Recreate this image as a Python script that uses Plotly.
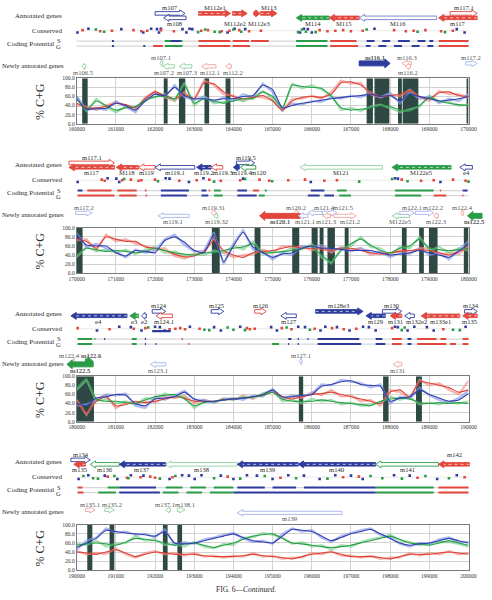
import plotly.graph_objects as go

# ======================= DATA =======================
PANEL_STARTS = [160000, 170000, 180000, 190000]
STEP = 250  # sampling step of the %C+G series (bp)

# ---- % C+G (smoothed = dark, raw = light), one value every 250 bp ----
P1_RED = [45,35,35,38, 45,42,35,55, 70,62,55,65, 55,90,88,70, 60,55,58,62, 50,30,50,58, 60,58,65,90, 92,85,68,60, 62,65,72,60, 55,68,70,62, 60]
P1_RED_RAW = [40,38,30,40, 48,38,30,58, 72,58,50,70, 52,95,85,65, 62,50,60,58, 52,28,55,55, 62,55,70,95, 88,90,65,58, 65,60,75,58, 50,72,65,65, 58]
P1_GREEN = [55,30,50,40, 30,35,38,50, 60,60,55,85, 45,55,50,45, 50,55,55,70, 60,35,85,82, 80,78,60,35, 30,32,35,40, 38,30,28,40, 58,50,45,42, 40]
P1_GREEN_RAW = [60,28,55,38, 25,38,35,55, 58,65,50,90, 40,60,45,48, 55,50,58,72, 55,30,88,78, 85,75,62,30, 35,28,38,42, 35,25,32,38, 62,48,48,40, 42]
P1_BLUE = [55,32,33,34, 45,40,30,50, 65,62,80,62, 55,55,52,55, 55,60,62,85, 75,35,40,45, 48,52,55,58, 60,62,65,60, 62,50,65,60, 55,50,52,55, 60]
P1_BLUE_RAW = [60,30,35,30, 50,38,25,55, 68,58,85,58, 52,60,48,58, 50,65,58,88, 70,30,45,42, 50,48,58,55, 62,58,70,58, 68,45,70,55, 60,45,55,50, 65]

P2_RED = [75,70,55,80, 75,70,70,58, 55,50,42,36, 38,48,72,50, 40,35,45,48, 50,55,60,55, 55,52,50,55, 55,50,45,42, 45,48,50,52, 50,45,40,48, 55]
P2_RED_RAW = [72,75,50,85, 70,75,65,60, 52,55,38,32, 42,45,78,45, 35,40,42,52, 45,60,55,60, 50,58,45,58, 52,55,40,45, 40,52,45,55, 55,40,45,42, 60]
P2_GREEN = [40,55,52,48, 50,48,45,48, 55,50,45,42, 40,45,45,50, 55,58,65,45, 45,48,50,55, 60,40,25,50, 65,75,62,50, 45,55,60,75, 55,52,50,52, 55]
P2_GREEN_RAW = [35,58,48,52, 45,52,42,52, 58,45,48,38, 42,40,50,45, 60,52,70,42, 48,45,55,52, 65,35,22,55, 60,80,58,55, 40,58,55,80, 50,58,45,55, 50]
P2_BLUE = [85,62,60,60, 45,38,50,48, 45,72,80,68, 50,45,85,25, 60,90,58,45, 35,42,45,55, 60,55,55,52, 50,50,50,45, 40,42,45,50, 45,40,35,48, 65]
P2_BLUE_RAW = [88,58,65,55, 48,35,52,45, 50,75,85,62, 48,50,90,20, 65,95,52,48, 30,45,40,60, 58,62,50,55, 48,55,45,48, 35,45,42,55, 40,45,30,52, 70]

P3_RED = [45,20,45,55, 35,38,45,42, 45,50,55,52, 45,45,45,48, 50,52,55,58, 65,55,50,55, 60,62,65,60, 55,50,45,40, 65,70,55,88, 85,80,75,65, 70]
P3_RED_RAW = [48,15,50,58, 30,42,40,45, 42,55,52,58, 40,48,42,52, 48,58,50,62, 68,50,55,52, 65,58,70,55, 58,45,48,35, 70,65,50,92, 80,85,70,60, 90]
P3_GREEN = [75,95,50,45, 45,42,40,48, 55,58,60,50, 35,42,45,48, 50,52,55,58, 65,50,45,45, 45,48,45,42, 40,38,35,45, 50,52,50,42, 40,42,40,42, 40]
P3_GREEN_RAW = [70,92,45,50, 40,45,38,52, 50,62,55,55, 30,45,42,50, 48,55,52,62, 68,45,48,40, 50,45,48,38, 42,35,38,42, 55,48,55,38, 42,38,45,40, 45]
P3_BLUE = [40,35,52,55, 60,58,40,35, 50,52,55,65, 50,45,45,48, 50,52,55,60, 70,55,55,58, 60,78,82,88, 90,82,80,78, 45,52,55,70, 60,52,45,48, 62]
P3_BLUE_RAW = [35,38,48,60, 58,62,35,30, 55,48,58,68, 48,48,42,50, 52,48,58,55, 72,50,58,55, 62,82,80,92, 88,85,75,82, 40,55,50,75, 58,48,42,52, 68]

P4_RED = [40,38,35,40, 45,38,30,35, 40,38,35,35, 35,32,30,30, 30,32,35,32, 30,28,25,30, 35,38,40,35, 30,30,30,28, 25,30,35,35, 35,38,40,38, 35]
P4_RED_RAW = [42,35,38,36, 48,35,28,38, 42,35,38,32, 38,30,32,28, 32,30,38,30, 32,25,28,28, 38,35,42,32, 32,28,32,25, 28,28,38,32, 38,35,42,35, 38]
P4_GREEN = [55,58,60,58, 55,62,70,68, 65,60,55,58, 60,55,50,55, 60,68,75,78, 80,70,60,58, 55,52,50,52, 55,60,65,70, 75,68,60,58, 55,60,65,60, 55]
P4_GREEN_RAW = [58,55,65,52, 58,60,75,65, 68,55,58,52, 62,52,48,58, 55,72,72,82, 78,72,58,62, 52,55,45,55, 52,62,68,72, 78,65,62,55, 58,62,62,58, 52]
P4_BLUE = [50,60,70,88, 85,82,80,78, 75,85,60,58, 60,65,70,75, 80,72,65,62, 60,75,90,88, 85,75,65,72, 80,85,90,80, 70,60,55,58, 60,65,70,65, 60]
P4_BLUE_RAW = [45,65,72,92, 82,85,78,80, 72,90,55,62, 58,68,72,78, 82,70,62,65, 58,80,92,85, 88,72,62,75, 82,88,92,78, 72,58,52,60, 58,68,72,62, 62]

# ---- sequence gaps (dark bars in the %C+G plot) ----
P1_GAPS = [(160140,160280),(162222,162321),(162609,162773),(163260,163380),(163800,163925),
           (167400,167560),(167600,167980),(168200,168300),(168320,168720),(169950,170000)]
P2_GAPS = [(170000,170150),(173450,173650),(174540,174690),(175500,175680),(176000,176150),
           (176200,176300),(176400,176590),(176840,176940),(178300,178420),(178740,178860),
           (178990,179210),(179880,180000)]
P3_GAPS = [(180000,180440),(185670,185780),(187820,187960),(188660,188810)]
P4_GAPS = [(190270,190400),(190840,190960),(192200,192320),(192570,192690)]

# ---- annotated genes: (name, start, end, strand) ----
P1_GENES = [("m107",162000,162765,1),("m108",162220,162790,-1),("M112e1",163110,163925,1),
            ("M112e2",163975,164350,1),("M112e3",164520,164680,1),("M113",164690,165110,1),
            ("M114",165605,166445,-1),("M115",166445,167210,-1),("M116",167210,169185,-1),
            ("m117.1",169530,170220,1),("m117",169235,170220,-1)]
P2_GENES = [("m117.1",169802,170963,1),("m117",169802,170963,-1),("M118",171012,171580,-1),
            ("m119",171580,172000,-1),("m119.1",172000,173012,-1),("m119.2",173062,173432,-1),
            ("m119.3",173432,173728,-1),("m119.5",174074,174543,1),("m119.4",174000,174150,-1),
            ("m120",174180,174570,-1),("M121",175703,177802,-1),("M122e5",178049,179555,-1),
            ("e4",179778,180099,-1)]
P3_GENES = [("e4",179852,181284,-1),("e3",181358,181580,-1),("e2",181654,181778,-1),
            ("m124",181926,182272,1),("m124.1",182025,182444,-1),("m125",183432,183753,1),
            ("m126",184543,184839,1),("m127",185210,185605,-1),("m128e3",186099,187309,1),
            ("m129",187383,187876,-1),("m130",187802,188296,1),("m131",188000,188296,-1),
            ("m132e2",188370,188617,-1),("m133e1",188790,189778,-1),("m134",189901,190222,1),
            ("m135",189852,190222,-1)]
P4_GENES = [("m134",189852,190346,1),("m135",189926,190222,-1),("m136",190346,191086,-1),
            ("m137",191086,192272,-1),("m138",192272,194099,-1),("m139",194099,195654,-1),
            ("m140",195654,197630,-1),("m141",197630,199234,-1),("m142",199234,200025,-1)]

# ---- newly annotated genes ----
P1_NEW = [("m106.5",160130,160230,-1),("m107.1",162123,162200,-1),("m107.2",162200,162494,-1),
          ("m107.3",162617,162938,-1),("m112.1",163185,163555,-1),("m112.2",163802,163950,-1),
          ("m116.1",167210,168000,1),("m116.3",168300,168540,-1),("m116.2",168380,168520,-1),
          ("m117.2",169925,170222,1)]
P2_NEW = [("m117.2",169975,170395,1),("m119.1",172074,172864,-1),("m119.31",173432,173555,-1),
          ("m119.32",173506,173605,-1),("m120.2",175530,175654,-1),("m120.1",174667,175703,-1),
          ("m121.4",175900,176271,-1),("m121.5",176271,176642,1),("m121.1",175654,175900,-1),
          ("m121.3",176271,176480,-1),("m121.2",176560,177136,1),("M122e5",178049,178494,-1),
          ("m122.1",178246,178617,1),("m122.2",178640,179111,1),("m122.3",179111,179234,-1),
          ("m122.4",179802,179876,-1),("m122.5",179975,180345,-1)]
P3_NEW = [("m122.4",179900,179950,-1),("m122.6",180222,180420,1),("m122.5",179750,180420,-1),
          ("m123.1",181877,182272,-1),("m127.1",185679,185753,-1),("m131",188074,188296,-1)]
P4_NEW = [("m135.1",190222,190469,1),("m135.2",190716,190963,1),("m137.1",192272,192395,-1),
          ("m138.1",192568,192765,1),("m139",194099,196770,-1)]

# ---- conserved elements (positions) ----
P1_CONS = {"blue": [160020,160300,161140,161700,161900,162050,162100,162150,162700,162800,162880,162950,
                    163850,164030,164300,165700,165800,165900,166000,167600,169700,169900],
           "red": [160150,160600,160900,161450,161650,161800,162150,162480,163180,163350,163700,163900,
                   164150,164400,164700,166200,166400,166600,166800,167000,167300,168100,168400,168600,
                   168900,169300,169600],
           "green": [160490,160700,163100,163280,163520,163650,164000,164200,165650,165750,165850,166100,
                     167400,168700,169400]}
P2_CONS = {"blue": [170025,170790,171012,171086,172272,172370,172864,173234,174247,175975,178123,178197,179284],
           "red": [170640,170716,171160,171382,171580,171654,172000,172617,173062,173383,173679,174173,
                   174667,174913,175400,175827,176320,176642,178296,178790,179111,179605,179925],
           "green": [171210,172074,173506,174300,174988,177210,178049,178444,180000]}
P3_CONS = {"blue": [180518,181086,181382,181654,182000,182123,182247,182889,183506,183679,184173,184963,
                    185111,185654,185827,186222,186346,186642,186963,187309,187457,187630,188123,188197,
                    188444,188617,188938,189111,189926],
           "red": [180025,180840,181457,181753,182370,182518,182642,182765,183136,184346,184420,184543,
                   185235,185482,186074,186518,186815,187136,188049,189358],
           "green": [181827,183259,183383,183852,184000,184296,185358,185951,188296,188370,189605,189778]}
P4_CONS = {"blue": [190049,190296,190716,191037,191383,191704,192370,192691,192864,193012,193185,193679,
                    194000,194346,194600,195000,195400,195800,196200,196600,197000,197300,198100,198500,
                    199200,199700],
           "red": [190790,191284,191630,191877,192000,192444,193852,195200,196800,197200,198700,199900],
           "green": [190173,190420,190543,190963,191320,192123,192518,193506,194173,194800,195600,196400,
                     197500,197800,198300,198900,199500]}

# ---- coding potential segments (start, end, colour) on S and G tracks ----
P1_CODE_S = [(160900,160950,"blue"),(162250,162700,"green"),(162400,162650,"blue"),(163110,163920,"red"),
             (163980,164400,"red"),(164450,164900,"red"),(165600,166400,"green"),(166470,167140,"red"),
             (167400,167600,"blue"),(167800,168000,"blue"),(168200,168500,"blue"),(168700,168900,"blue"),
             (169000,169100,"blue"),(169240,170000,"red")]
P1_CODE_G = [(160900,160950,"blue"),(161700,161750,"blue"),(161950,162200,"red"),(162250,162700,"green"),
             (163110,163920,"red"),(163980,164420,"red"),(165600,166400,"green"),(166470,167180,"red"),
             (167380,167500,"blue"),(167700,167900,"blue"),(168100,168300,"blue"),(168550,168750,"blue"),
             (168950,169100,"blue"),(169240,170000,"red")]
P2_CODE_S = [(170025,170148,"blue"),(170272,170889,"red"),(171037,171531,"red"),(171740,171780,"red"),
             (172148,172864,"blue"),(173185,173309,"blue"),(173370,173400,"red"),(173506,173679,"green"),
             (174099,174346,"blue"),(174500,174650,"red"),(174800,174850,"green"),(175975,176321,"blue"),
             (176642,176889,"green"),(178123,179111,"green"),(179270,179300,"red"),(179852,179975,"blue")]
P2_CODE_G = [(170025,170963,"red"),(171086,171531,"red"),(171760,171800,"red"),(172148,172815,"blue"),
             (173185,173358,"blue"),(173506,173728,"green"),(174099,174593,"blue"),(174650,174800,"green"),
             (175900,176200,"blue"),(176321,176568,"blue"),(176700,177000,"green"),(178123,178790,"green"),
             (179111,179432,"red"),(179840,179870,"red")]
P3_CODE_S = [(180025,180395,"green"),(180450,180480,"green"),(180700,180730,"blue"),(181407,181531,"green"),
             (181740,181770,"blue"),(182680,182710,"red"),(185400,185480,"blue"),(185640,185670,"blue"),
             (185890,185920,"blue"),(186148,187210,"blue"),(187630,187802,"blue"),(188049,188296,"red"),
             (188444,188543,"blue"),(188691,189185,"red"),(189284,189432,"red"),(189852,190000,"red")]
P3_CODE_G = [(180025,180395,"green"),(181407,181531,"green"),(181740,181770,"blue"),(182010,182040,"blue"),
             (182850,182880,"red"),(184988,185161,"green"),(185390,185420,"blue"),(185640,185670,"blue"),
             (186148,187260,"blue"),(187630,187876,"blue"),(188049,188296,"red"),(188444,188543,"blue"),
             (188691,189432,"red"),(189530,189679,"red"),(189852,190000,"red")]
P4_CODE_S = [(190025,190148,"red"),(190790,191086,"green"),(191086,192025,"blue"),(192272,192700,"green"),
             (192900,193300,"green"),(193500,194000,"green"),(194100,194800,"blue"),(195000,195600,"blue"),
             (195800,196900,"blue"),(196900,197630,"blue"),(197630,199111,"green"),(199234,200000,"red")]
P4_CODE_G = [(190025,190173,"red"),(190550,191000,"green"),(191086,192123,"blue"),(192200,192600,"green"),
             (192800,193200,"green"),(193400,194000,"green"),(194000,197630,"blue"),(197630,199111,"green"),
             (199234,200000,"red")]

# ======================= STYLE =======================
# per-gene style: "<colour> <kind> <row+label position>"
P1_GENE_STYLE = ["blue open ua","blue open lb","red solid ua","red solid ub","red solid ub","red solid ua",
                 "green solid lb","red solid lb","mblue open lb","red open ua","red solid lb"]
P2_GENE_STYLE = ["red open ua","red solid lb","red solid lb","red open lb","blue open lb","blue solid lb",
                 "red open lb","blue open ua","blue solid lb","green open lb","lgreen open lb",
                 "green solid lb","blue open lb"]
P3_GENE_STYLE = ["blue solid lb","green solid lb","blue open lb","blue open ua","red open lb","blue open ua",
                 "red open ua","blue open lb","blue solid ua","blue solid lb","blue open ua","red solid lb",
                 "blue open lb","red solid lb","blue open ua","red solid lb"]
P4_GENE_STYLE = ["blue open ua","red solid lb","green open lb","blue solid lb","lgreen open lb",
                 "blue solid lb","blue solid lb","green open lb","red solid la"]
P1_NEW_STYLE = ["lgreen pale Lb","lgreen pale Ua","lgreen pale Lb","lgreen pale Lb","lred pale Lb",
                "lred pale Lb","blue bold Ua","lred pale Ua","lred pale Lb","lblue pale Ua"]
P2_NEW_STYLE = ["lblue pale Ua","lblue pale Lb","lred pale Ua","lgreen pale Lb","lred pale Ua","red bold Lb",
                "lblue pale Ua","lblue pale Ua","lblue pale Lb","lred pale Lb","lred pale Lb",
                "lgreen pale Lb","lblue pale Ua","lblue pale Ua","lred pale Lb","lred pale Ua","green bold Lb"]
P3_NEW_STYLE = ["lred pale Ua","green bold Ua","green bold Lb","lblue pale Lb","lblue pale Ua","lred pale Lb"]
P4_NEW_STYLE = ["lred pale Ua","lgreen pale Ua","lgreen pale Ua","lgreen pale Ua","lblue pale Lb"]

# label nudges (bp) so that neighbouring labels sit side by side: (panel, track, name) -> shift
LABEL_DX = {(0, "ann", "M112e2"): -110, (0, "ann", "M112e3"): 60,
            (0, "new", "m107.2"): -120, (0, "new", "m107.3"): 60, (0, "new", "m112.1"): 40,
            (0, "new", "m112.2"): 110,
            (1, "ann", "m119.3"): 150, (1, "ann", "m119.4"): 150, (1, "ann", "m120"): 290,
            (1, "new", "m121.4"): 250, (1, "new", "m121.5"): 350, (1, "new", "m121.2"): 120,
            (1, "new", "m121.1"): 60, (1, "new", "m122.1"): 120, (1, "new", "m122.2"): 220,
            (2, "ann", "m132e2"): 170, (2, "new", "m122.4"): -110, (2, "new", "m122.6"): 60,
            (3, "new", "m135.2"): 60, (3, "new", "m137.1"): -90, (3, "new", "m138.1"): 110}

COL = dict(red="#e2463c", lred="#f2a39b", blue="#2c3b9c", mblue="#6d7fd0", lblue="#a7b4e8",
           green="#2a9c48", lgreen="#8fd19f")
LINE_DARK = dict(red="#de4136", green="#27a046", blue="#2f3fae")
LINE_LIGHT = dict(red="rgba(243,140,130,0.65)", green="rgba(120,205,140,0.65)", blue="rgba(135,152,230,0.65)")
GAP_COLOR = "#2e4944"
SERIF = "Liberation Serif"
LABEL_SIZE = 6.6

W, H = 492, 600
X0, X1 = 71, 476               # plot area in px
BPPX = 10000 / (X1 - X0)        # bp per pixel
TOPS = [0, 151, 301, 451]       # panel top offsets (px)
TRK_L = 55                       # left edge of track area (px)
ROW_Y = dict(u=10.5, l=15.0, U=61.0, L=64.0)
LAB_Y = {("u", "a"): 5.0, ("l", "a"): 5.0, ("u", "b"): 20.5, ("l", "b"): 20.5,
         ("U", "a"): 55.5, ("L", "a"): 55.5, ("U", "b"): 70.0, ("L", "b"): 70.0}
JIT = [0, -1.6, 1.4, -0.6, 1.8, -1.2, 0.6, -2.0, 1.0]

SERIES = [
    (P1_RED, P1_RED_RAW, P1_GREEN, P1_GREEN_RAW, P1_BLUE, P1_BLUE_RAW),
    (P2_RED, P2_RED_RAW, P2_GREEN, P2_GREEN_RAW, P2_BLUE, P2_BLUE_RAW),
    (P3_RED, P3_RED_RAW, P3_GREEN, P3_GREEN_RAW, P3_BLUE, P3_BLUE_RAW),
    (P4_RED, P4_RED_RAW, P4_GREEN, P4_GREEN_RAW, P4_BLUE, P4_BLUE_RAW),
]
GAPS = [P1_GAPS, P2_GAPS, P3_GAPS, P4_GAPS]
GENES = [(P1_GENES, P1_GENE_STYLE), (P2_GENES, P2_GENE_STYLE), (P3_GENES, P3_GENE_STYLE), (P4_GENES, P4_GENE_STYLE)]
NEWS = [(P1_NEW, P1_NEW_STYLE), (P2_NEW, P2_NEW_STYLE), (P3_NEW, P3_NEW_STYLE), (P4_NEW, P4_NEW_STYLE)]
CONS = [P1_CONS, P2_CONS, P3_CONS, P4_CONS]
CODES = [(P1_CODE_S, P1_CODE_G), (P2_CODE_S, P2_CODE_G), (P3_CODE_S, P3_CODE_G), (P4_CODE_S, P4_CODE_G)]

fig = go.Figure()
annotations = []
layout_axes = {}


def sfx(n):
    return "" if n == 1 else str(n)


def add_arrow(xa, ya, s, e, strand, yc, colour, kind):
    body, head, lw = 3.6, 7.0, 0.9
    fill, line = "white", COL[colour]
    if kind == "solid":
        fill = COL[colour]
    elif kind == "bold":
        body, head, lw = 5.0, 9.0, 1.0
        fill = COL[colour]
    elif kind == "pale":
        body, head = 3.2, 6.2
    hl = min(5.5 * BPPX, 0.7 * (e - s))
    if strand > 0:
        b = e - hl
        xs = [s, b, b, e, b, b, s, s]
        tail, base = s, b
    else:
        b = s + hl
        xs = [e, b, b, s, b, b, e, e]
        tail, base = e, b
    ys = [yc - body / 2, yc - body / 2, yc - head / 2, yc, yc + head / 2, yc + body / 2, yc + body / 2, yc - body / 2]
    fig.add_trace(go.Scatter(x=xs, y=ys, mode="lines", fill="toself", fillcolor=fill,
                             line=dict(color=line, width=lw), xaxis=xa, yaxis=ya,
                             hoverinfo="skip", showlegend=False))
    if kind == "solid" and abs(base - tail) > 3 * BPPX:
        fig.add_trace(go.Scatter(x=[tail, base], y=[yc, yc], mode="lines",
                                 line=dict(color="rgba(255,255,255,0.85)", width=0.8, dash="dot"),
                                 xaxis=xa, yaxis=ya, hoverinfo="skip", showlegend=False))


for i, S in enumerate(PANEL_STARTS):
    top = TOPS[i]
    ta, pa = 2 * i + 1, 2 * i + 2
    xa, ya = "x" + sfx(ta), "y" + sfx(ta)
    xp, yp = "x" + sfx(pa), "y" + sfx(pa)
    layout_axes["xaxis" + sfx(ta)] = dict(domain=[TRK_L / W, 1], range=[S + (TRK_L - X0) * BPPX, S + (W - X0) * BPPX],
                                          visible=False, anchor=ya, fixedrange=True)
    layout_axes["yaxis" + sfx(ta)] = dict(domain=[1 - (top + 75) / H, 1 - top / H], range=[75, 0],
                                          visible=False, anchor=xa, fixedrange=True)
    layout_axes["xaxis" + sfx(pa)] = dict(
        domain=[X0 / W, X1 / W], range=[S, S + 10000], anchor=yp,
        tickvals=list(range(S, S + 10001, 1000)), ticktext=[str(v) for v in range(S, S + 10001, 1000)],
        tickfont=dict(family=SERIF, size=5.5, color="#333"), ticks="", showgrid=True,
        gridcolor="#d2d2d2", gridwidth=0.6, showline=True, linecolor="#7a7a7a", linewidth=0.8,
        mirror=True, zeroline=False)
    layout_axes["yaxis" + sfx(pa)] = dict(
        domain=[1 - (top + 122) / H, 1 - (top + 76) / H], range=[0, 100], anchor=xp,
        tickvals=[0, 20, 40, 60, 80, 100], tickformat=".1f",
        tickfont=dict(family=SERIF, size=5.5, color="#333"), ticks="", showgrid=True,
        gridcolor="#d2d2d2", gridwidth=0.6, showline=True, linecolor="#7a7a7a", linewidth=0.8,
        mirror=True, zeroline=False)

    # ---------- gaps (dark bars), drawn first so the curves run over them ----------
    gx, gy = [], []
    for g0, g1 in GAPS[i]:
        gx += [g0, g1, g1, g0, g0, None]
        gy += [0, 0, 100, 100, 0, None]
    fig.add_trace(go.Scatter(x=gx, y=gy, mode="lines", fill="toself", fillcolor=GAP_COLOR,
                             line=dict(width=0, color=GAP_COLOR), xaxis=xp, yaxis=yp,
                             hoverinfo="skip", showlegend=False))

    # ---------- % C+G ----------
    red, red_raw, green, green_raw, blue, blue_raw = SERIES[i]
    xs = list(range(S, S + 10001, STEP))
    for arr in SERIES[i]:
        assert len(arr) == len(xs)
    for vals, c in ((red_raw, "red"), (green_raw, "green"), (blue_raw, "blue")):
        fig.add_trace(go.Scatter(x=xs, y=vals, mode="lines", line=dict(color=LINE_LIGHT[c], width=2.2),
                                 xaxis=xp, yaxis=yp, hoverinfo="skip", showlegend=False))
    for vals, c in ((red, "red"), (green, "green"), (blue, "blue")):
        fig.add_trace(go.Scatter(x=xs, y=vals, mode="lines", line=dict(color=LINE_DARK[c], width=1.1,
                                 shape="spline", smoothing=0.5),
                                 xaxis=xp, yaxis=yp, hoverinfo="skip", showlegend=False))

    # ---------- background tracks ----------
    for yy, col, w in ((28, "#e4e4e4", 0.8), (38.5, "#d6d6d6", 1.2), (43.5, "#d6d6d6", 1.2)):
        fig.add_trace(go.Scatter(x=[S, S + 10000], y=[yy, yy], mode="lines", line=dict(color=col, width=w),
                                 xaxis=xa, yaxis=ya, hoverinfo="skip", showlegend=False))

    # ---------- conserved ----------
    for c, pos in CONS[i].items():
        yy = [28 + JIT[(k * 3 + len(c)) % len(JIT)] for k in range(len(pos))]
        fig.add_trace(go.Scatter(x=pos, y=yy, mode="markers",
                                 marker=dict(symbol="square", size=2.6, color=COL[c], line=dict(width=0)),
                                 xaxis=xa, yaxis=ya, hoverinfo="skip", showlegend=False))
    if i == 2:
        fig.add_trace(go.Scatter(x=[181926, 182400], y=[30.5, 30.5], mode="lines",
                                 line=dict(color=COL["blue"], width=2.2),
                                 xaxis=xa, yaxis=ya, hoverinfo="skip", showlegend=False))

    # ---------- coding potential ----------
    for segs, yy in zip(CODES[i], (38.5, 43.5)):
        for c in ("red", "green", "blue"):
            sx, sy = [], []
            for s0, s1, cc in segs:
                if cc == c:
                    sx += [s0, s1, None]
                    sy += [yy, yy, None]
            if sx:
                fig.add_trace(go.Scatter(x=sx, y=sy, mode="lines", line=dict(color=COL[c], width=2.0),
                                         xaxis=xa, yaxis=ya, hoverinfo="skip", showlegend=False))

    # ---------- genes ----------
    for genes, styles, track in (GENES[i] + ("ann",), NEWS[i] + ("new",)):
        for (name, s, e, strand), st in zip(genes, styles):
            colour, kind, pos = st.split()
            row, labp = pos[0], pos[1]
            add_arrow(xa, ya, s, e, strand, ROW_Y[row], colour, kind)
            txt = "<b>%s</b>" % name if kind == "bold" else name
            lx = (s + e) / 2 + LABEL_DX.get((i, track, name), 0)
            annotations.append(dict(x=lx, y=LAB_Y[(row, labp)], xref=xa, yref=ya, text=txt,
                                    showarrow=False, xanchor="center", yanchor="middle",
                                    font=dict(family=SERIF, size=LABEL_SIZE,
                                              color="#555" if track == "new" else "#2a2a2a")))

    # ---------- left labels ----------
    def lab(text, ypx, xpx=58, size=7):
        annotations.append(dict(x=xpx / W, y=1 - (top + ypx) / H, xref="paper", yref="paper", text=text,
                                showarrow=False, xanchor="right", yanchor="middle",
                                font=dict(family=SERIF, size=size, color="#2a2a2a")))
    lab("Annotated genes", 13)
    lab("Conserved", 28)
    lab("Coding Potential", 41, xpx=50)
    lab("S", 38, xpx=57, size=6.5)
    lab("G", 44, xpx=57, size=6.5)
    lab("Newly annotated genes", 63, xpx=60, size=6.6)
    annotations.append(dict(x=33 / W, y=1 - (top + 99) / H, xref="paper", yref="paper", text="% C+G",
                            textangle=-90, showarrow=False, xanchor="center", yanchor="middle",
                            font=dict(family=SERIF, size=12, color="#2a2a2a")))

annotations.append(dict(x=246 / W, y=1 - 592 / H, xref="paper", yref="paper",
                        text="FIG. 6—<i>Continued.</i>", showarrow=False, xanchor="center", yanchor="middle",
                        font=dict(family=SERIF, size=7.5, color="#2a2a2a")))

fig.update_layout(width=W, height=H, margin=dict(l=0, r=0, t=0, b=0), paper_bgcolor="white",
                  plot_bgcolor="white", showlegend=False, annotations=annotations,
                  **layout_axes)
fig.write_html("out.html")
